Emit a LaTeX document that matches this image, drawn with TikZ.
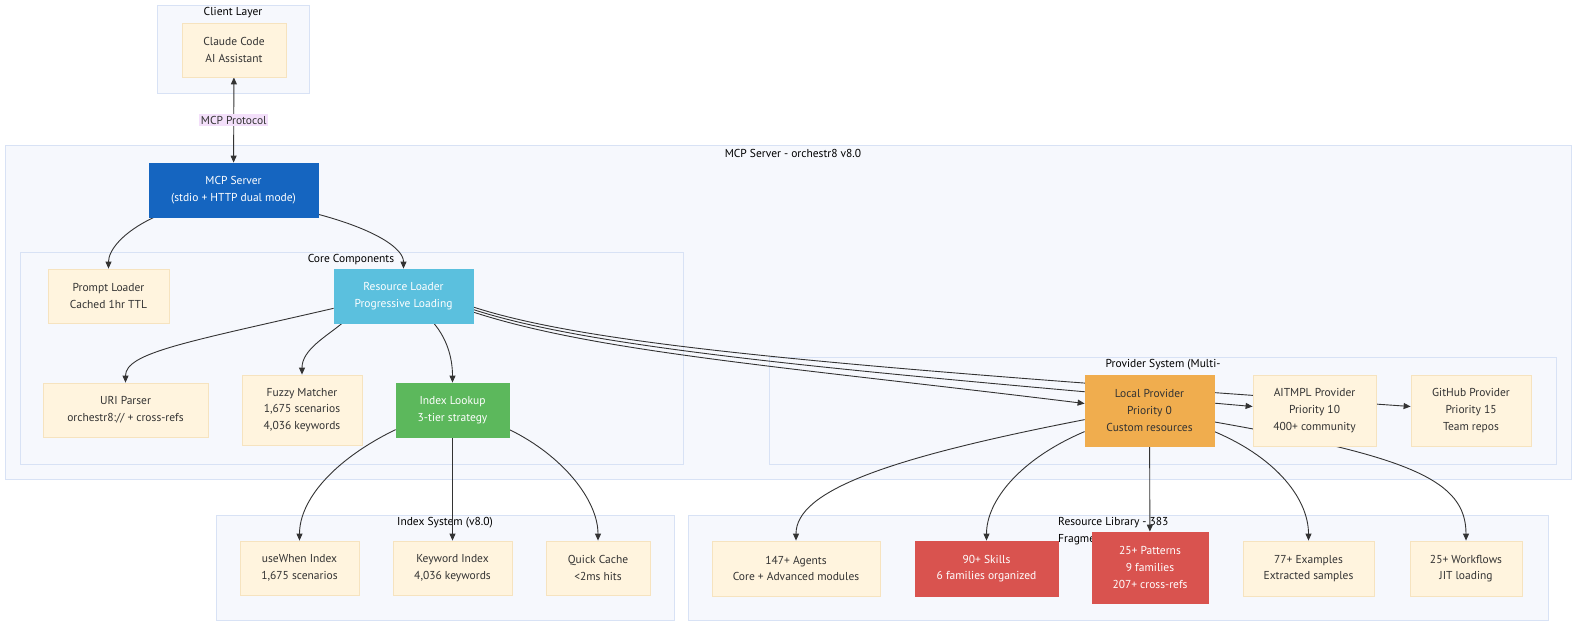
\documentclass[tikz,border=0pt]{standalone}
\usepackage{fontspec}
\setmainfont{PT Sans}
\usetikzlibrary{arrows.meta,backgrounds,positioning}
\pgfdeclarelayer{edges}
\pgfsetlayers{background,edges,main}
\definecolor{groupfill}{HTML}{F6F8FD}
\definecolor{groupedge}{HTML}{D8E2F5}
\definecolor{cardfill}{HTML}{FFF4DE}
\definecolor{cardedge}{HTML}{F6E3BF}
\definecolor{textdark}{HTML}{333333}
\definecolor{linkgray}{HTML}{333333}
\definecolor{lblfill}{HTML}{F3DFFA}
\definecolor{mcpblue}{HTML}{1565C0}
\definecolor{loaderblue}{HTML}{5BC0DE}
\definecolor{lookupgreen}{HTML}{5CB85C}
\definecolor{localorange}{HTML}{F0AD4E}
\definecolor{libred}{HTML}{D9534F}

\begin{document}
\begin{tikzpicture}[x=1pt,y=1pt,
  >={Triangle[length=7pt,width=6pt]},
  card/.style={draw=cardedge,fill=cardfill,text=textdark,align=center,inner sep=0pt,
    line width=0.8pt,font=\fontsize{11.5}{16.7}\selectfont},
  group/.style={draw=groupedge,fill=groupfill,line width=0.8pt},
  grouptitle/.style={font=\fontsize{11.5}{16.7}\selectfont,text=black,align=center,inner sep=0pt},
  link/.style={draw=linkgray,line width=0.9pt,->},
  lbl/.style={fill=lblfill,text=textdark,inner sep=1.5pt,font=\fontsize{11.5}{14}\selectfont}]
\useasboundingbox (0,0) rectangle (1584,-630);

% subgraphs
\begin{scope}[on background layer]
  \fill[white] (0,0) rectangle (1584,-630);
  \draw[group] (157,-5) rectangle (309,-93);
  \node[grouptitle] (clienttitle) at (233,-13) {Client Layer};
  \draw[group] (5,-145) rectangle (1571,-479);
  \node[grouptitle] (servertitle) at (793,-153) {MCP Server - orchestr8 v8.0};
  \draw[group] (20,-252) rectangle (683,-464);
  \node[grouptitle] (coretitle) at (351,-260) {Core Components};
  \draw[group] (769,-357) rectangle (1556,-464);
  \node[grouptitle] (providertitle) at (1163,-365) {Provider System (Multi-};
  \draw[group] (216,-515) rectangle (674,-620);
  \node[grouptitle] (indextitle) at (445,-523) {Index System (v8.0)};
  \draw[group] (688,-515) rectangle (1548,-620);
  \node[grouptitle,align=left,anchor=west] (librarytitle) at (1058,-531) {Resource Library - 383\\Fragments};
\end{scope}

% nodes
\node[card,minimum width=104pt,minimum height=54pt] (claude) at (234,-50) {Claude Code\\AI Assistant};
\node[card,draw=mcpblue,fill=mcpblue,text=white,minimum width=169pt,minimum height=54pt] (mcp) at (233.5,-190) {MCP Server\\(stdio + HTTP dual mode)};

\node[card,minimum width=121pt,minimum height=54pt] (prompt) at (108.5,-296) {Prompt Loader\\Cached 1hr TTL};
\node[card,draw=loaderblue,fill=loaderblue,text=white,minimum width=139pt,minimum height=54pt] (rl) at (403.5,-296) {Resource Loader\\Progressive Loading};
\node[card,minimum width=165pt,minimum height=54pt] (uri) at (125.5,-410) {URI Parser\\orchestr8:// + cross-refs};
\node[card,minimum width=120pt,minimum height=70pt] (fuzzy) at (302,-410) {Fuzzy Matcher\\1,675 scenarios\\4,036 keywords};
\node[card,draw=lookupgreen,fill=lookupgreen,text=white,minimum width=113pt,minimum height=54pt] (idx) at (452.5,-410) {Index Lookup\\3-tier strategy};

\node[card,draw=localorange,fill=localorange,minimum width=129pt,minimum height=71pt] (local) at (1149.5,-410.5) {Local Provider\\Priority 0\\Custom resources};
\node[card,minimum width=123pt,minimum height=71pt] (aitmpl) at (1314.5,-410.5) {AITMPL Provider\\Priority 10\\400+ community};
\node[card,minimum width=120pt,minimum height=71pt] (github) at (1471,-410.5) {GitHub Provider\\Priority 15\\Team repos};

\node[card,minimum width=119pt,minimum height=54pt] (usewhen) at (299.5,-568) {useWhen Index\\1,675 scenarios};
\node[card,minimum width=119pt,minimum height=54pt] (keyword) at (452.5,-568) {Keyword Index\\4,036 keywords};
\node[card,minimum width=104pt,minimum height=54pt] (quick) at (598,-568) {Quick Cache\\<2ms hits};

\node[card,minimum width=168pt,minimum height=55pt] (agents) at (796,-568.5) {147+ Agents\\Core + Advanced modules};
\node[card,draw=libred,fill=libred,text=white,minimum width=143pt,minimum height=55pt] (skills) at (986.5,-568.5) {90+ Skills\\6 families organized};
\node[card,draw=libred,fill=libred,text=white,minimum width=116pt,minimum height=71pt] (patterns) at (1150,-567.5) {25+ Patterns\\9 families\\207+ cross-refs};
\node[card,minimum width=131pt,minimum height=55pt] (examples) at (1308.5,-568.5) {77+ Examples\\Extracted samples};
\node[card,minimum width=112pt,minimum height=55pt] (workflows) at (1466,-568.5) {25+ Workflows\\JIT loading};

% connectors
\begin{pgfonlayer}{edges}
  \draw[link,<->] (claude) -- node[lbl] (protocol) {MCP Protocol} (mcp);
  \draw[link] (mcp.199) to[out=205,in=90,out distance=35pt,in distance=18pt] (prompt.north);
  \draw[link] (mcp.-16) to[out=-15,in=90,out distance=60pt,in distance=20pt] (rl.north);

  \draw[link] (rl.190) to[out=193,in=90,out distance=150pt,in distance=30pt] (uri.north);
  \draw[link] (rl.204) to[out=220,in=90,out distance=20pt,in distance=25pt] (fuzzy.north);
  \draw[link] (rl.-42) to[out=-50,in=90,out distance=20pt,in distance=25pt] (idx.north);
  \draw[link] (rl.-13) to[out=-18,in=173,out distance=130pt,in distance=300pt] ([yshift=7pt]local.west);
  \draw[link] (rl.-11) to[out=-18,in=175,out distance=130pt,in distance=400pt] ([yshift=4pt]aitmpl.west);
  \draw[link] (rl.-9) to[out=-18,in=176,out distance=130pt,in distance=550pt] ([yshift=4pt]github.west);

  \draw[link] (idx.199) to[out=206,in=90,out distance=70pt,in distance=40pt] (usewhen.north);
  \draw[link] (idx) -- (keyword);
  \draw[link] (idx.-19) to[out=-26,in=90,out distance=60pt,in distance=40pt] (quick.north);

  \draw[link] (local.188) to[out=191,in=90,out distance=200pt,in distance=50pt] (agents.north);
  \draw[link] (local.198) to[out=203,in=90,out distance=70pt,in distance=40pt] (skills.north);
  \draw[link] (local) -- (patterns);
  \draw[link] (local.-18) to[out=-23,in=90,out distance=70pt,in distance=40pt] (examples.north);
  \draw[link] (local.-10) to[out=-10,in=90,out distance=200pt,in distance=60pt] (workflows.north);
\end{pgfonlayer}
\end{tikzpicture}
\end{document}
